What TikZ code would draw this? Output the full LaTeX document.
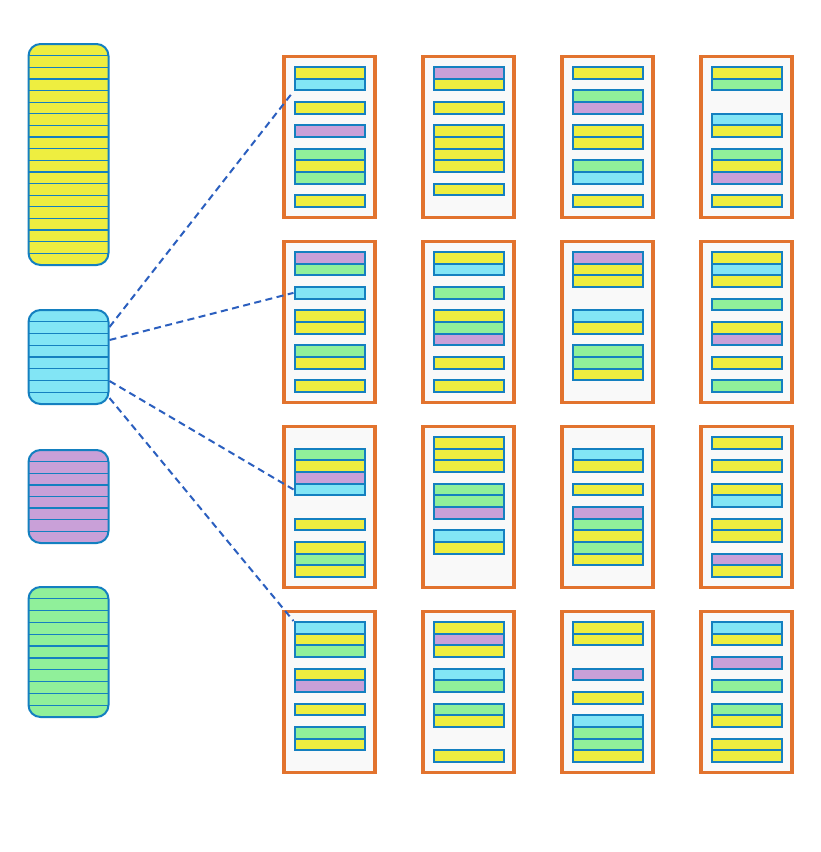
\documentclass[tikz,border=0pt]{standalone}
\usetikzlibrary{calc}
\definecolor{sY}{HTML}{EEEE40}
\definecolor{sC}{HTML}{82E5F5}
\definecolor{sP}{HTML}{C9A0D8}
\definecolor{sG}{HTML}{90F09A}
\definecolor{blueb}{HTML}{1480C0}
\definecolor{orangec}{HTML}{E2732E}
\definecolor{panelbg}{HTML}{F9F9F9}
\definecolor{dashc}{HTML}{2B5FBF}
\tikzset{
  panelbox/.style={draw=orangec, line width=3.8pt, fill=panelbg, minimum width=91, minimum height=161, inner sep=0pt},
  stripbox/.style={draw=blueb, line width=2pt, minimum width=70, minimum height=11.67, inner sep=0pt},
  stackbox/.style={draw=blueb, line width=2pt, rounded corners=12pt, minimum width=80, inner sep=0pt},
  stackline/.style={draw=blueb, line width=1.3pt},
  stackcells/.style 2 args={path picture={\foreach \i in {1,...,#1}{\draw[stackline] ([yshift={-\i*#2}]path picture bounding box.north west) -- ++(100,0);}}},
  conn/.style={draw=dashc, line width=2pt, dash pattern=on 7pt off 4.5pt}
}
\newcommand\mypanel[4]{%
  \node[panelbox] (#1) at (#2, #3+81) {};
  \foreach \s/\c in {#4} \node[stripbox, fill=s\c] (#1-\s) at (#2, #3+16.83+\s*11.67) {};
}
\begin{document}
\begin{tikzpicture}[x={(1pt,0)}, y={(0,-1pt)}]
\useasboundingbox (0,0) rectangle (821,852);
\fill[white] (0,0) rectangle (821,852);
% stacks
\node[stackbox, fill=sY, minimum height=221, stackcells={18}{11.63}] (ystack) at (68.5,154.5) {};
\node[stackbox, fill=sC, minimum height=94, stackcells={7}{11.75}] (cstack) at (68.5,357) {};
\node[stackbox, fill=sP, minimum height=93, stackcells={7}{11.625}] (pstack) at (68.5,496.5) {};
\node[stackbox, fill=sG, minimum height=130, stackcells={10}{11.82}] (gstack) at (68.5,652) {};
% panels
\mypanel{p11}{329.5}{56}{0/Y,1/C,3/Y,5/P,7/G,8/Y,9/G,11/Y}
\mypanel{p12}{468.5}{56}{0/P,1/Y,3/Y,5/Y,6/Y,7/Y,8/Y,10/Y}
\mypanel{p13}{607.5}{56}{0/Y,2/G,3/P,5/Y,6/Y,8/G,9/C,11/Y}
\mypanel{p14}{746.5}{56}{0/Y,1/G,4/C,5/Y,7/G,8/Y,9/P,11/Y}
\mypanel{p21}{329.5}{241}{0/P,1/G,3/C,5/Y,6/Y,8/G,9/Y,11/Y}
\mypanel{p22}{468.5}{241}{0/Y,1/C,3/G,5/Y,6/G,7/P,9/Y,11/Y}
\mypanel{p23}{607.5}{241}{0/P,1/Y,2/Y,5/C,6/Y,8/G,9/G,10/Y}
\mypanel{p24}{746.5}{241}{0/Y,1/C,2/Y,4/G,6/Y,7/P,9/Y,11/G}
\mypanel{p31}{329.5}{426}{1/G,2/Y,3/P,4/C,7/Y,9/Y,10/G,11/Y}
\mypanel{p32}{468.5}{426}{0/Y,1/Y,2/Y,4/G,5/G,6/P,8/C,9/Y}
\mypanel{p33}{607.5}{426}{1/C,2/Y,4/Y,6/P,7/G,8/Y,9/G,10/Y}
\mypanel{p34}{746.5}{426}{0/Y,2/Y,4/Y,5/C,7/Y,8/Y,10/P,11/Y}
\mypanel{p41}{329.5}{611}{0/C,1/Y,2/G,4/Y,5/P,7/Y,9/G,10/Y}
\mypanel{p42}{468.5}{611}{0/Y,1/P,2/Y,4/C,5/G,7/G,8/Y,11/Y}
\mypanel{p43}{607.5}{611}{0/Y,1/Y,4/P,6/Y,8/C,9/G,10/G,11/Y}
\mypanel{p44}{746.5}{611}{0/C,1/Y,3/P,5/G,7/G,8/Y,10/Y,11/Y}
% connectors
\draw[conn] ([yshift=30pt]cstack.east) -- (p11-1.south west);
\draw[conn] ([yshift=17pt]cstack.east) -- (p21-3.west);
\draw[conn] ([yshift=-24pt]cstack.east) -- (p31-4.west);
\draw[conn] ([yshift=-41pt]cstack.east) -- (p41-0.north west);
\end{tikzpicture}
\end{document}
